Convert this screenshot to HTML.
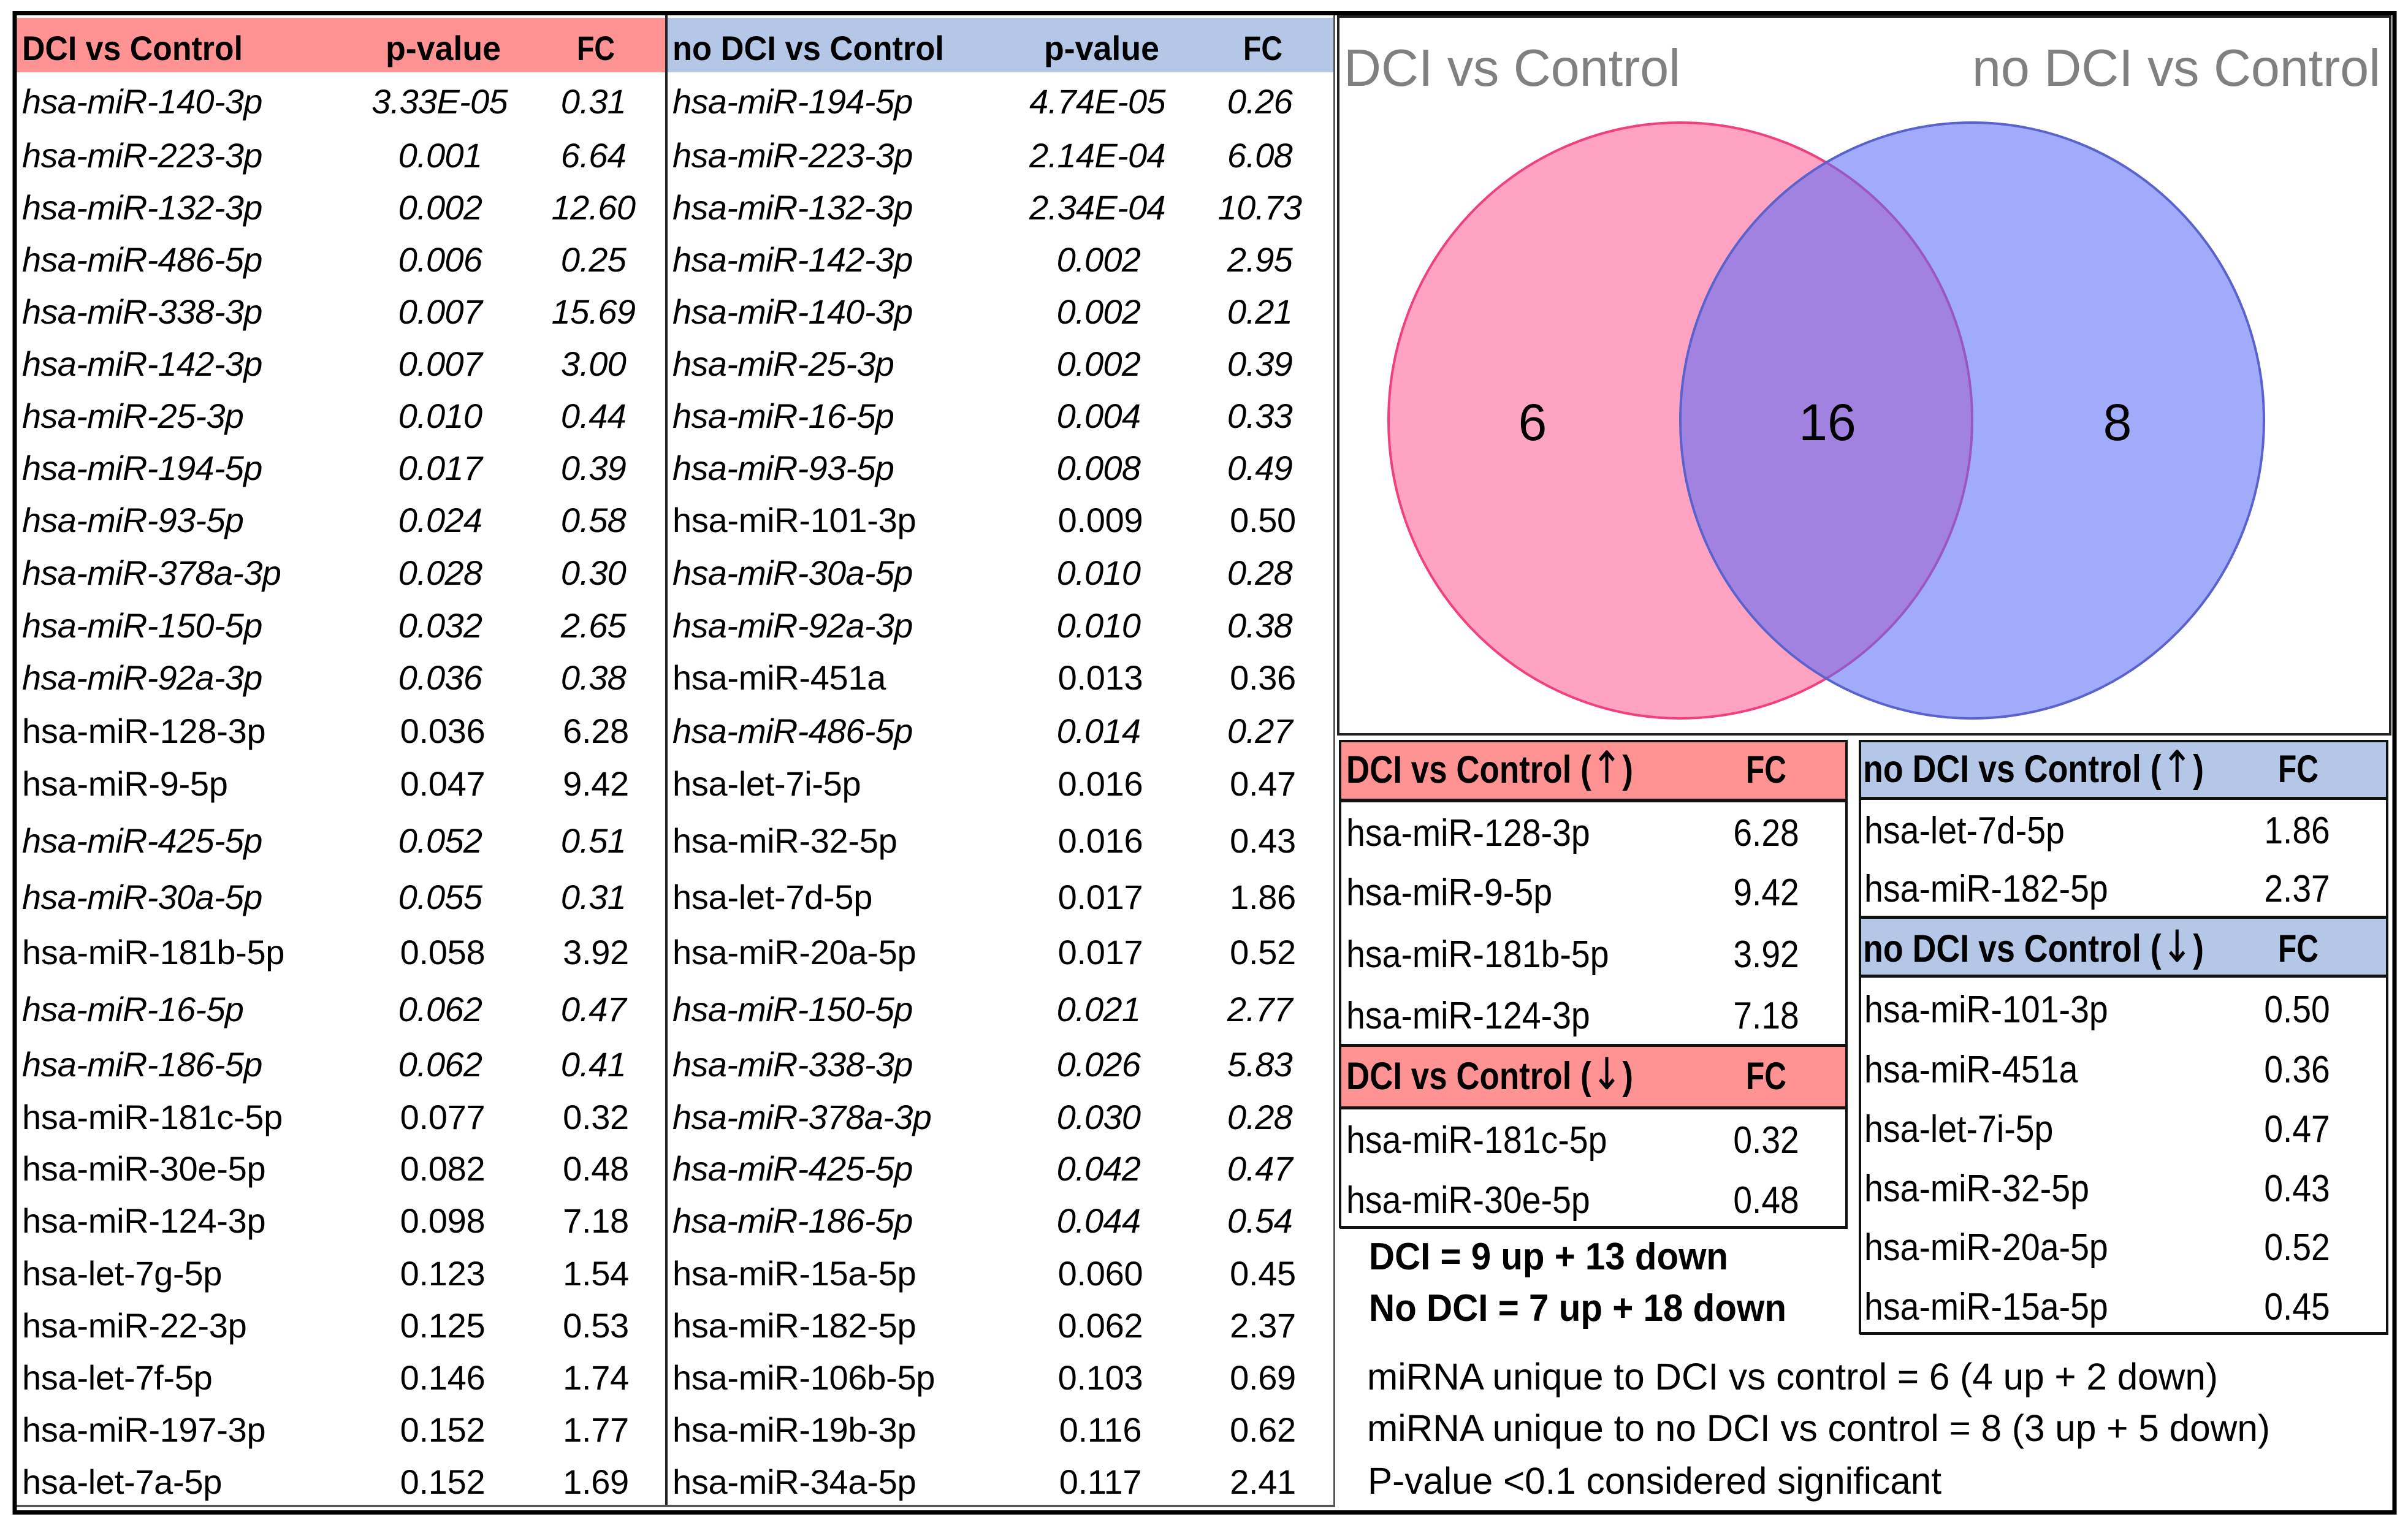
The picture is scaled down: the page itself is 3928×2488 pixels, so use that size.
<!DOCTYPE html>
<html lang="en"><head><meta charset="utf-8"><title>miRNA DCI vs Control</title>
<style>
html,body{margin:0;padding:0;background:#fff}
svg{display:block}
text{font-family:"Liberation Sans",Arial,sans-serif;fill:#000}
.t{font-size:56px;letter-spacing:-.3px}
.i{font-style:italic;letter-spacing:-.7px}
.m{text-anchor:middle}
.b{font-weight:bold}
.h{font-size:56px;font-weight:bold;letter-spacing:0}
.l{font-size:62px}
.hl{font-size:63px;font-weight:bold}
.a{font-family:"DejaVu Sans",sans-serif;font-weight:normal;font-size:72px}
</style></head><body>
<svg xmlns="http://www.w3.org/2000/svg" width="3928" height="2488" viewBox="0 0 3928 2488">
<rect width="3928" height="2488" fill="#fff"/>

<g>
<rect x="27" y="29" width="1059" height="89" fill="#ff9393"/>
<text class="h" x="36" y="98" textLength="360" lengthAdjust="spacingAndGlyphs">DCI vs Control</text>
<text class="h m" x="723" y="98" textLength="188" lengthAdjust="spacingAndGlyphs">p-value</text>
<text class="h m" x="972" y="98" textLength="62" lengthAdjust="spacingAndGlyphs">FC</text>
<g class="t i" transform="translate(0 185)"><text x="36">hsa-miR-140-3p</text><text class="m" x="717">3.33E-05</text><text class="m" x="968">0.31</text></g>
<g class="t i" transform="translate(0 273)"><text x="36">hsa-miR-223-3p</text><text class="m" x="718">0.001</text><text class="m" x="968">6.64</text></g>
<g class="t i" transform="translate(0 358)"><text x="36">hsa-miR-132-3p</text><text class="m" x="718">0.002</text><text class="m" x="968">12.60</text></g>
<g class="t i" transform="translate(0 443)"><text x="36">hsa-miR-486-5p</text><text class="m" x="718">0.006</text><text class="m" x="968">0.25</text></g>
<g class="t i" transform="translate(0 528)"><text x="36">hsa-miR-338-3p</text><text class="m" x="718">0.007</text><text class="m" x="968">15.69</text></g>
<g class="t i" transform="translate(0 613)"><text x="36">hsa-miR-142-3p</text><text class="m" x="718">0.007</text><text class="m" x="968">3.00</text></g>
<g class="t i" transform="translate(0 698)"><text x="36">hsa-miR-25-3p</text><text class="m" x="718">0.010</text><text class="m" x="968">0.44</text></g>
<g class="t i" transform="translate(0 783)"><text x="36">hsa-miR-194-5p</text><text class="m" x="718">0.017</text><text class="m" x="968">0.39</text></g>
<g class="t i" transform="translate(0 868)"><text x="36">hsa-miR-93-5p</text><text class="m" x="718">0.024</text><text class="m" x="968">0.58</text></g>
<g class="t i" transform="translate(0 954)"><text x="36">hsa-miR-378a-3p</text><text class="m" x="718">0.028</text><text class="m" x="968">0.30</text></g>
<g class="t i" transform="translate(0 1040)"><text x="36">hsa-miR-150-5p</text><text class="m" x="718">0.032</text><text class="m" x="968">2.65</text></g>
<g class="t i" transform="translate(0 1125)"><text x="36">hsa-miR-92a-3p</text><text class="m" x="718">0.036</text><text class="m" x="968">0.38</text></g>
<g class="t" transform="translate(0 1212)"><text x="36">hsa-miR-128-3p</text><text class="m" x="722">0.036</text><text class="m" x="972">6.28</text></g>
<g class="t" transform="translate(0 1298)"><text x="36">hsa-miR-9-5p</text><text class="m" x="722">0.047</text><text class="m" x="972">9.42</text></g>
<g class="t i" transform="translate(0 1391)"><text x="36">hsa-miR-425-5p</text><text class="m" x="718">0.052</text><text class="m" x="968">0.51</text></g>
<g class="t i" transform="translate(0 1483)"><text x="36">hsa-miR-30a-5p</text><text class="m" x="718">0.055</text><text class="m" x="968">0.31</text></g>
<g class="t" transform="translate(0 1573)"><text x="36">hsa-miR-181b-5p</text><text class="m" x="722">0.058</text><text class="m" x="972">3.92</text></g>
<g class="t i" transform="translate(0 1666)"><text x="36">hsa-miR-16-5p</text><text class="m" x="718">0.062</text><text class="m" x="968">0.47</text></g>
<g class="t i" transform="translate(0 1756)"><text x="36">hsa-miR-186-5p</text><text class="m" x="718">0.062</text><text class="m" x="968">0.41</text></g>
<g class="t" transform="translate(0 1842)"><text x="36">hsa-miR-181c-5p</text><text class="m" x="722">0.077</text><text class="m" x="972">0.32</text></g>
<g class="t" transform="translate(0 1926)"><text x="36">hsa-miR-30e-5p</text><text class="m" x="722">0.082</text><text class="m" x="972">0.48</text></g>
<g class="t" transform="translate(0 2011)"><text x="36">hsa-miR-124-3p</text><text class="m" x="722">0.098</text><text class="m" x="972">7.18</text></g>
<g class="t" transform="translate(0 2097)"><text x="36">hsa-let-7g-5p</text><text class="m" x="722">0.123</text><text class="m" x="972">1.54</text></g>
<g class="t" transform="translate(0 2182)"><text x="36">hsa-miR-22-3p</text><text class="m" x="722">0.125</text><text class="m" x="972">0.53</text></g>
<g class="t" transform="translate(0 2267)"><text x="36">hsa-let-7f-5p</text><text class="m" x="722">0.146</text><text class="m" x="972">1.74</text></g>
<g class="t" transform="translate(0 2352)"><text x="36">hsa-miR-197-3p</text><text class="m" x="722">0.152</text><text class="m" x="972">1.77</text></g>
<g class="t" transform="translate(0 2437)"><text x="36">hsa-let-7a-5p</text><text class="m" x="722">0.152</text><text class="m" x="972">1.69</text></g>
</g>

<g>
<rect x="1088" y="29" width="1087" height="89" fill="#b4c7e7"/>
<text class="h" x="1097" y="98" textLength="443" lengthAdjust="spacingAndGlyphs">no DCI vs Control</text>
<text class="h m" x="1797" y="98" textLength="188" lengthAdjust="spacingAndGlyphs">p-value</text>
<text class="h m" x="2060" y="98" textLength="64" lengthAdjust="spacingAndGlyphs">FC</text>
<g class="t i" transform="translate(0 185)"><text x="1097">hsa-miR-194-5p</text><text class="m" x="1790">4.74E-05</text><text class="m" x="2055">0.26</text></g>
<g class="t i" transform="translate(0 273)"><text x="1097">hsa-miR-223-3p</text><text class="m" x="1790">2.14E-04</text><text class="m" x="2055">6.08</text></g>
<g class="t i" transform="translate(0 358)"><text x="1097">hsa-miR-132-3p</text><text class="m" x="1790">2.34E-04</text><text class="m" x="2055">10.73</text></g>
<g class="t i" transform="translate(0 443)"><text x="1097">hsa-miR-142-3p</text><text class="m" x="1792">0.002</text><text class="m" x="2055">2.95</text></g>
<g class="t i" transform="translate(0 528)"><text x="1097">hsa-miR-140-3p</text><text class="m" x="1792">0.002</text><text class="m" x="2055">0.21</text></g>
<g class="t i" transform="translate(0 613)"><text x="1097">hsa-miR-25-3p</text><text class="m" x="1792">0.002</text><text class="m" x="2055">0.39</text></g>
<g class="t i" transform="translate(0 698)"><text x="1097">hsa-miR-16-5p</text><text class="m" x="1792">0.004</text><text class="m" x="2055">0.33</text></g>
<g class="t i" transform="translate(0 783)"><text x="1097">hsa-miR-93-5p</text><text class="m" x="1792">0.008</text><text class="m" x="2055">0.49</text></g>
<g class="t" transform="translate(0 868)"><text x="1097">hsa-miR-101-3p</text><text class="m" x="1795">0.009</text><text class="m" x="2060">0.50</text></g>
<g class="t i" transform="translate(0 954)"><text x="1097">hsa-miR-30a-5p</text><text class="m" x="1792">0.010</text><text class="m" x="2055">0.28</text></g>
<g class="t i" transform="translate(0 1040)"><text x="1097">hsa-miR-92a-3p</text><text class="m" x="1792">0.010</text><text class="m" x="2055">0.38</text></g>
<g class="t" transform="translate(0 1125)"><text x="1097">hsa-miR-451a</text><text class="m" x="1795">0.013</text><text class="m" x="2060">0.36</text></g>
<g class="t i" transform="translate(0 1212)"><text x="1097">hsa-miR-486-5p</text><text class="m" x="1792">0.014</text><text class="m" x="2055">0.27</text></g>
<g class="t" transform="translate(0 1298)"><text x="1097">hsa-let-7i-5p</text><text class="m" x="1795">0.016</text><text class="m" x="2060">0.47</text></g>
<g class="t" transform="translate(0 1391)"><text x="1097">hsa-miR-32-5p</text><text class="m" x="1795">0.016</text><text class="m" x="2060">0.43</text></g>
<g class="t" transform="translate(0 1483)"><text x="1097">hsa-let-7d-5p</text><text class="m" x="1795">0.017</text><text class="m" x="2060">1.86</text></g>
<g class="t" transform="translate(0 1573)"><text x="1097">hsa-miR-20a-5p</text><text class="m" x="1795">0.017</text><text class="m" x="2060">0.52</text></g>
<g class="t i" transform="translate(0 1666)"><text x="1097">hsa-miR-150-5p</text><text class="m" x="1792">0.021</text><text class="m" x="2055">2.77</text></g>
<g class="t i" transform="translate(0 1756)"><text x="1097">hsa-miR-338-3p</text><text class="m" x="1792">0.026</text><text class="m" x="2055">5.83</text></g>
<g class="t i" transform="translate(0 1842)"><text x="1097">hsa-miR-378a-3p</text><text class="m" x="1792">0.030</text><text class="m" x="2055">0.28</text></g>
<g class="t i" transform="translate(0 1926)"><text x="1097">hsa-miR-425-5p</text><text class="m" x="1792">0.042</text><text class="m" x="2055">0.47</text></g>
<g class="t i" transform="translate(0 2011)"><text x="1097">hsa-miR-186-5p</text><text class="m" x="1792">0.044</text><text class="m" x="2055">0.54</text></g>
<g class="t" transform="translate(0 2097)"><text x="1097">hsa-miR-15a-5p</text><text class="m" x="1795">0.060</text><text class="m" x="2060">0.45</text></g>
<g class="t" transform="translate(0 2182)"><text x="1097">hsa-miR-182-5p</text><text class="m" x="1795">0.062</text><text class="m" x="2060">2.37</text></g>
<g class="t" transform="translate(0 2267)"><text x="1097">hsa-miR-106b-5p</text><text class="m" x="1795">0.103</text><text class="m" x="2060">0.69</text></g>
<g class="t" transform="translate(0 2352)"><text x="1097">hsa-miR-19b-3p</text><text class="m" x="1795">0.116</text><text class="m" x="2060">0.62</text></g>
<g class="t" transform="translate(0 2437)"><text x="1097">hsa-miR-34a-5p</text><text class="m" x="1795">0.117</text><text class="m" x="2060">2.41</text></g>
</g>

<rect x="1085" y="25" width="4" height="2432" fill="#222"/>
<rect x="2175" y="25" width="3" height="2433" fill="#555"/>
<rect x="27" y="2455" width="2151" height="4" fill="#555"/>

<g>
<rect x="2183" y="27" width="1716" height="1171" fill="none" stroke="#222" stroke-width="4"/>
<ellipse cx="2741" cy="686" rx="476" ry="486" fill="#ff3f7f" fill-opacity=".48" stroke="#f0407f" stroke-width="4"/>
<ellipse cx="3217" cy="686" rx="476" ry="486" fill="#5769fa" fill-opacity=".56" stroke="#5a62cc" stroke-width="4"/>
<text x="2192" y="140" font-size="85" textLength="549" lengthAdjust="spacingAndGlyphs" style="fill:#808080">DCI vs Control</text>
<text x="3217" y="140" font-size="85" textLength="666" lengthAdjust="spacingAndGlyphs" style="fill:#808080">no DCI vs Control</text>
<text class="m" x="2500" y="718" font-size="84">6</text>
<text class="m" x="2981" y="718" font-size="84">16</text>
<text class="m" x="3454" y="718" font-size="84">8</text>
</g>

<g>
<rect x="2186" y="1209" width="826" height="95" fill="#ff9393"/>
<rect x="2186" y="1706" width="826" height="100" fill="#ff9393"/>
<rect x="2186" y="1209" width="826" height="793" fill="none" stroke="#111" stroke-width="4"/>
<rect x="2186" y="1303" width="826" height="6" fill="#111"/>
<rect x="2186" y="1703" width="826" height="5" fill="#111"/>
<rect x="2186" y="1805" width="826" height="5" fill="#111"/>
<rect x="2186" y="2000" width="828" height="5" fill="#111"/>
<text class="hl" x="2196" y="1277" textLength="468" lengthAdjust="spacingAndGlyphs">DCI vs Control (<tspan class="a">↑</tspan>)</text>
<text class="hl m" x="2881" y="1277" textLength="66" lengthAdjust="spacingAndGlyphs">FC</text>
<text class="hl" x="2196" y="1777" textLength="468" lengthAdjust="spacingAndGlyphs">DCI vs Control (<tspan class="a">↓</tspan>)</text>
<text class="hl m" x="2881" y="1777" textLength="66" lengthAdjust="spacingAndGlyphs">FC</text>
<g class="l" transform="translate(2196 0) scale(.895 1)">
<text y="1380">hsa-miR-128-3p</text>
<text y="1477">hsa-miR-9-5p</text>
<text y="1578">hsa-miR-181b-5p</text>
<text y="1678">hsa-miR-124-3p</text>
<text y="1881">hsa-miR-181c-5p</text>
<text y="1979">hsa-miR-30e-5p</text>
</g>
<g class="l m" transform="translate(2881 0) scale(.89 1)">
<text class="m" y="1380">6.28</text>
<text class="m" y="1477">9.42</text>
<text class="m" y="1578">3.92</text>
<text class="m" y="1678">7.18</text>
<text class="m" y="1881">0.32</text>
<text class="m" y="1979">0.48</text>
</g>
</g>

<g>
<rect x="3034" y="1209" width="860" height="92" fill="#b4c7e7"/>
<rect x="3034" y="1497" width="860" height="96" fill="#b4c7e7"/>
<rect x="3034" y="1209" width="860" height="966" fill="none" stroke="#111" stroke-width="4"/>
<rect x="3034" y="1300" width="860" height="5" fill="#111"/>
<rect x="3034" y="1494" width="860" height="5" fill="#111"/>
<rect x="3034" y="1590" width="860" height="5" fill="#111"/>
<rect x="3034" y="2173" width="862" height="5" fill="#111"/>
<text class="hl" x="3039" y="1276" textLength="556" lengthAdjust="spacingAndGlyphs">no DCI vs Control (<tspan class="a">↑</tspan>)</text>
<text class="hl m" x="3749" y="1276" textLength="66" lengthAdjust="spacingAndGlyphs">FC</text>
<text class="hl" x="3039" y="1569" textLength="556" lengthAdjust="spacingAndGlyphs">no DCI vs Control (<tspan class="a">↓</tspan>)</text>
<text class="hl m" x="3749" y="1569" textLength="66" lengthAdjust="spacingAndGlyphs">FC</text>
<g class="l" transform="translate(3041 0) scale(.895 1)">
<text y="1376">hsa-let-7d-5p</text>
<text y="1471">hsa-miR-182-5p</text>
<text y="1668">hsa-miR-101-3p</text>
<text y="1766">hsa-miR-451a</text>
<text y="1863">hsa-let-7i-5p</text>
<text y="1960">hsa-miR-32-5p</text>
<text y="2056">hsa-miR-20a-5p</text>
<text y="2153">hsa-miR-15a-5p</text>
</g>
<g class="l" transform="translate(3747 0) scale(.89 1)">
<text class="m" y="1376">1.86</text>
<text class="m" y="1471">2.37</text>
<text class="m" y="1668">0.50</text>
<text class="m" y="1766">0.36</text>
<text class="m" y="1863">0.47</text>
<text class="m" y="1960">0.43</text>
<text class="m" y="2056">0.52</text>
<text class="m" y="2153">0.45</text>
</g>
</g>

<g>
<text class="b" x="2233" y="2071" font-size="62" textLength="586" lengthAdjust="spacingAndGlyphs">DCI = 9 up + 13 down</text>
<text class="b" x="2233" y="2155" font-size="62" textLength="681" lengthAdjust="spacingAndGlyphs">No DCI = 7 up + 18 down</text>
<text x="2230" y="2267" font-size="61" textLength="1388" lengthAdjust="spacingAndGlyphs">miRNA unique to DCI vs control = 6 (4 up + 2 down)</text>
<text x="2230" y="2351" font-size="61" textLength="1473" lengthAdjust="spacingAndGlyphs">miRNA unique to no DCI vs control = 8 (3 up + 5 down)</text>
<text x="2231" y="2437" font-size="61" textLength="936" lengthAdjust="spacingAndGlyphs">P-value &lt;0.1 considered significant</text>
</g>

<rect x="24" y="21.5" width="3882" height="2446" fill="none" stroke="#000" stroke-width="7"/>
</svg>
</body></html>
